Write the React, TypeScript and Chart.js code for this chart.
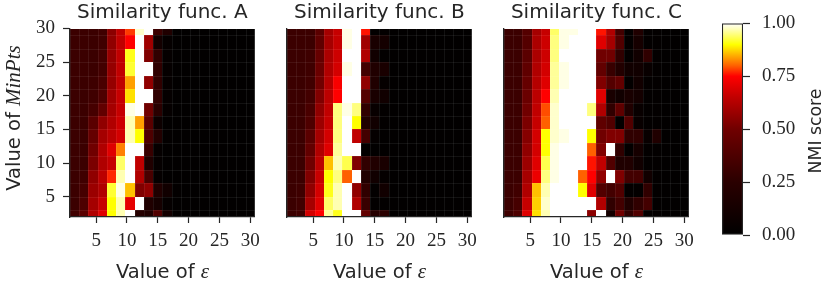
import React, { useEffect, useRef } from "react";
import { Chart, registerables } from "chart.js";

Chart.register(...registerables);

// ---------- data ----------
const EPSILON = [1.5, 3, 4.5, 6, 7.5, 9, 10.5, 12, 13.5, 15, 16.5, 18, 19.5, 21, 22.5, 24, 25.5, 27, 28.5, 30];
const MIN_PTS = [30, 28, 26, 24, 22, 20, 18, 16, 14, 12, 10, 8, 6, 4, 2];
const X_TICKS = [5, 10, 15, 20, 25, 30];
const Y_TICKS = [5, 10, 15, 20, 25, 30];
const NMI_TICKS = [0, 0.25, 0.5, 0.75, 1];
const X_RANGE = [0.75, 30.75];
const Y_RANGE = [2, 30];
const NMI_RANGE = [0, 1];
const TITLES = ["Similarity func. A", "Similarity func. B", "Similarity func. C"];

// rows follow MIN_PTS (30 at top ... 2 at bottom), columns follow EPSILON
const NMI_A = [
  [0.31,0.31,0.31,0.33,0.55,0.65,0.78,0.98,1.00,0.31,0.19,0.01,0.01,0.01,0.01,0.01,0.01,0.01,0.01,0.01],
  [0.31,0.31,0.31,0.33,0.56,0.65,0.75,1.00,0.59,0.12,0.03,0.01,0.01,0.01,0.01,0.01,0.01,0.01,0.01,0.01],
  [0.31,0.31,0.31,0.34,0.57,0.65,0.91,1.00,0.53,0.27,0.03,0.01,0.01,0.01,0.01,0.01,0.01,0.01,0.01,0.01],
  [0.31,0.31,0.31,0.34,0.57,0.65,0.92,1.00,1.00,0.27,0.03,0.01,0.01,0.01,0.01,0.01,0.01,0.01,0.01,0.01],
  [0.31,0.31,0.32,0.36,0.57,0.65,0.84,1.00,0.56,0.27,0.03,0.01,0.01,0.01,0.01,0.01,0.01,0.01,0.01,0.01],
  [0.31,0.31,0.33,0.38,0.59,0.66,0.88,1.00,1.00,0.27,0.03,0.01,0.01,0.01,0.01,0.01,0.01,0.01,0.01,0.01],
  [0.31,0.31,0.35,0.45,0.60,0.66,0.99,1.00,0.50,0.25,0.03,0.01,0.01,0.01,0.01,0.01,0.01,0.01,0.01,0.01],
  [0.31,0.31,0.42,0.56,0.62,0.67,0.97,0.84,0.42,0.08,0.01,0.01,0.01,0.01,0.01,0.01,0.01,0.01,0.01,0.01],
  [0.31,0.31,0.46,0.60,0.64,0.68,0.97,0.90,0.38,0.20,0.02,0.01,0.01,0.01,0.01,0.01,0.01,0.01,0.01,0.01],
  [0.31,0.31,0.50,0.62,0.70,0.82,1.00,1.00,0.30,0.03,0.01,0.01,0.01,0.01,0.01,0.01,0.01,0.01,0.01,0.01],
  [0.31,0.31,0.52,0.62,0.66,0.94,1.00,0.65,0.19,0.03,0.01,0.01,0.01,0.01,0.01,0.01,0.01,0.01,0.01,0.01],
  [0.31,0.33,0.56,0.64,0.77,0.97,1.00,0.62,0.36,0.03,0.01,0.01,0.01,0.01,0.01,0.01,0.01,0.01,0.01,0.01],
  [0.31,0.35,0.58,0.62,0.92,0.99,0.86,0.53,0.56,0.19,0.10,0.02,0.01,0.01,0.01,0.01,0.01,0.01,0.01,0.01],
  [0.31,0.38,0.60,0.66,0.90,0.97,0.71,1.00,0.19,0.13,0.03,0.01,0.01,0.01,0.01,0.01,0.01,0.01,0.01,0.01],
  [0.33,0.42,0.62,0.70,0.90,0.97,1.00,0.22,0.19,0.39,0.12,0.02,0.01,0.01,0.01,0.01,0.01,0.01,0.01,0.01],
];

const NMI_B = [
  [0.31,0.31,0.31,0.42,0.60,0.66,0.99,1.00,0.76,0.02,0.02,0.01,0.01,0.01,0.01,0.01,0.01,0.01,0.01,0.01],
  [0.31,0.31,0.31,0.44,0.60,0.66,0.99,1.00,0.59,0.15,0.12,0.01,0.01,0.01,0.01,0.01,0.01,0.01,0.01,0.01],
  [0.31,0.31,0.32,0.46,0.61,0.67,1.00,1.00,0.62,0.10,0.02,0.01,0.01,0.01,0.01,0.01,0.01,0.01,0.01,0.01],
  [0.31,0.31,0.32,0.48,0.62,0.68,0.99,1.00,0.34,0.19,0.15,0.01,0.01,0.01,0.01,0.01,0.01,0.01,0.01,0.01],
  [0.31,0.31,0.33,0.50,0.63,0.74,1.00,1.00,0.56,0.19,0.03,0.01,0.01,0.01,0.01,0.01,0.01,0.01,0.01,0.01],
  [0.31,0.31,0.34,0.53,0.64,0.75,1.00,1.00,0.40,0.15,0.10,0.01,0.01,0.01,0.01,0.01,0.01,0.01,0.01,0.01],
  [0.31,0.31,0.36,0.56,0.65,0.95,0.99,0.95,0.27,0.05,0.02,0.01,0.01,0.01,0.01,0.01,0.01,0.01,0.01,0.01],
  [0.31,0.31,0.38,0.58,0.66,0.95,1.00,0.90,0.19,0.10,0.02,0.01,0.01,0.01,0.01,0.01,0.01,0.01,0.01,0.01],
  [0.31,0.31,0.42,0.60,0.68,0.95,1.00,0.65,0.34,0.03,0.01,0.01,0.01,0.01,0.01,0.01,0.01,0.01,0.01,0.01],
  [0.31,0.31,0.45,0.62,0.70,0.96,1.00,1.00,0.02,0.01,0.01,0.01,0.01,0.01,0.01,0.01,0.01,0.01,0.01,0.01],
  [0.31,0.31,0.50,0.64,0.86,0.97,0.93,0.53,0.27,0.19,0.15,0.01,0.01,0.01,0.01,0.01,0.01,0.01,0.01,0.01],
  [0.31,0.31,0.53,0.66,0.90,0.95,0.80,1.00,0.19,0.10,0.03,0.01,0.01,0.01,0.01,0.01,0.01,0.01,0.01,0.01],
  [0.31,0.32,0.56,0.68,0.91,0.97,1.00,0.56,0.27,0.02,0.10,0.01,0.01,0.01,0.01,0.01,0.01,0.01,0.01,0.01],
  [0.31,0.33,0.60,0.70,0.94,0.97,1.00,0.62,0.30,0.02,0.02,0.01,0.01,0.01,0.01,0.01,0.01,0.01,0.01,0.01],
  [0.31,0.33,0.68,0.75,0.96,0.91,1.00,1.00,0.45,0.22,0.25,0.01,0.01,0.01,0.01,0.01,0.01,0.01,0.01,0.01],
];

const NMI_C = [
  [0.31,0.31,0.40,0.60,0.66,0.94,0.99,0.99,1.00,1.00,0.76,0.62,0.34,0.02,0.19,0.02,0.02,0.01,0.01,0.01],
  [0.31,0.31,0.40,0.61,0.67,0.95,0.99,1.00,1.00,1.00,0.70,0.60,0.39,0.02,0.13,0.02,0.02,0.01,0.01,0.01],
  [0.31,0.31,0.42,0.61,0.67,0.95,1.00,1.00,1.00,1.00,0.50,0.50,0.27,0.02,0.10,0.27,0.02,0.01,0.01,0.01],
  [0.31,0.31,0.44,0.62,0.68,0.96,0.99,1.00,1.00,1.00,0.45,0.30,0.20,0.10,0.10,0.05,0.02,0.01,0.01,0.01],
  [0.31,0.31,0.46,0.63,0.70,0.96,0.99,1.00,1.00,1.00,0.53,0.40,0.45,0.02,0.10,0.02,0.02,0.01,0.01,0.01],
  [0.31,0.31,0.48,0.64,0.75,0.97,1.00,1.00,1.00,1.00,0.70,0.15,0.10,0.15,0.12,0.02,0.02,0.01,0.01,0.01],
  [0.31,0.31,0.50,0.65,0.79,0.98,1.00,1.00,1.00,0.95,0.62,0.27,0.44,0.19,0.05,0.02,0.02,0.01,0.01,0.01],
  [0.31,0.31,0.52,0.66,0.80,0.98,1.00,1.00,1.00,1.00,0.44,0.39,0.02,0.39,0.05,0.02,0.02,0.01,0.01,0.01],
  [0.31,0.31,0.54,0.68,0.90,0.98,0.99,1.00,1.00,0.90,0.50,0.53,0.53,0.27,0.27,0.05,0.19,0.01,0.01,0.01],
  [0.31,0.31,0.56,0.68,0.90,0.99,1.00,1.00,1.00,0.80,0.53,1.00,0.27,0.02,0.13,0.02,0.02,0.01,0.01,0.01],
  [0.31,0.31,0.58,0.70,0.93,0.99,1.00,1.00,1.00,0.76,0.65,0.39,0.19,0.19,0.10,0.02,0.02,0.01,0.01,0.01],
  [0.31,0.31,0.60,0.72,0.95,0.99,1.00,1.00,0.80,0.75,0.56,1.00,0.53,0.34,0.34,0.10,0.02,0.01,0.01,0.01],
  [0.31,0.33,0.62,0.86,0.97,1.00,1.00,1.00,0.90,0.70,0.39,0.34,0.39,0.02,0.02,0.27,0.02,0.01,0.01,0.01],
  [0.31,0.35,0.66,0.87,0.98,1.00,1.00,1.00,1.00,1.00,0.62,0.27,0.34,0.19,0.27,0.34,0.02,0.01,0.01,0.01],
  [0.32,0.38,0.70,0.88,0.97,1.00,1.00,1.00,1.00,0.55,1.00,0.12,0.50,0.27,0.39,0.02,0.02,0.01,0.01,0.01],
];

const PANELS = [NMI_A, NMI_B, NMI_C];

// ---------- styling ----------
const INK = "#262626";
const SANS = "'DejaVu Sans', sans-serif";
const SERIF = "'Liberation Serif', serif";
const SEAM = "rgba(255,255,255,0.07)";
const CMAP_STOPS = [
  [0, 0, 0, 0],
  [0.25, 42, 0, 0],
  [0.5, 112, 0, 0],
  [0.65, 192, 0, 0],
  [0.75, 255, 0, 0],
  [0.8, 255, 96, 0],
  [0.87, 255, 208, 0],
  [0.9, 255, 255, 0],
  [1, 255, 255, 255],
];

function cmap(v: number) {
  const t = Math.max(0, Math.min(1, v));
  for (let i = 1; i < CMAP_STOPS.length; i++) {
    const a = CMAP_STOPS[i - 1];
    const b = CMAP_STOPS[i];
    if (t <= b[0]) {
      const f = (t - a[0]) / (b[0] - a[0]);
      const r = Math.round(a[1] + (b[1] - a[1]) * f);
      const g = Math.round(a[2] + (b[2] - a[2]) * f);
      const bl = Math.round(a[3] + (b[3] - a[3]) * f);
      return `rgb(${r},${g},${bl})`;
    }
  }
  return "rgb(255,255,255)";
}

function cellEdges(values: number[], range: number[]) {
  const clamp = (x: number) => Math.max(range[0], Math.min(range[1], x));
  return values.map((v, i) => {
    const prev = values[i - 1];
    const next = values[i + 1];
    const a = prev === undefined ? v - (next - v) / 2 : (v + prev) / 2;
    const b = next === undefined ? v + (v - prev) / 2 : (v + next) / 2;
    return [clamp(Math.min(a, b)), clamp(Math.max(a, b))];
  });
}

function buildCells(values: number[][]) {
  const xe = cellEdges(EPSILON, X_RANGE);
  const ye = cellEdges(MIN_PTS, Y_RANGE);
  const cells: any[] = [];
  MIN_PTS.forEach((m, r) =>
    EPSILON.forEach((e, c) =>
      cells.push({ x: e, y: m, v: values[r][c], x0: xe[c][0], x1: xe[c][1], y0: ye[r][0], y1: ye[r][1] })
    )
  );
  return cells;
}

const heatmapPlugin = {
  id: "heatmapCells",
  beforeDraw(chart: any) {
    const { ctx, chartArea, scales } = chart;
    if (!chartArea) return;
    const xs = scales.x;
    const ys = scales.y;
    ctx.save();
    ctx.beginPath();
    ctx.rect(chartArea.left, chartArea.top, chartArea.right - chartArea.left, chartArea.bottom - chartArea.top);
    ctx.clip();
    const data = chart.data.datasets[0].data;
    for (const p of data) {
      const px0 = Math.round(xs.getPixelForValue(p.x0));
      const px1 = Math.round(xs.getPixelForValue(p.x1));
      const py0 = Math.round(ys.getPixelForValue(p.y0));
      const py1 = Math.round(ys.getPixelForValue(p.y1));
      ctx.fillStyle = cmap(p.v);
      ctx.fillRect(Math.min(px0, px1), Math.min(py0, py1), Math.abs(px1 - px0), Math.abs(py1 - py0));
    }
    // faint seams between cells, as left by the rasterised mesh
    ctx.strokeStyle = SEAM;
    ctx.lineWidth = 1;
    const xsSeen = new Set<number>();
    const ysSeen = new Set<number>();
    for (const p of data) {
      xsSeen.add(Math.round(xs.getPixelForValue(p.x0)));
      ysSeen.add(Math.round(ys.getPixelForValue(p.y0)));
    }
    ctx.beginPath();
    xsSeen.forEach((px) => {
      ctx.moveTo(px + 0.5, chartArea.top);
      ctx.lineTo(px + 0.5, chartArea.bottom);
    });
    ysSeen.forEach((py) => {
      ctx.moveTo(chartArea.left, py + 0.5);
      ctx.lineTo(chartArea.right, py + 0.5);
    });
    ctx.stroke();
    ctx.restore();
  },
};

const AXIS_W = 70;
const AXIS_H = 70;
const PLOT_W = 185;
const PAD_R = 12;
const CANVAS_LEFTS = [0, 217, 434];

function panelConfig(title: string, values: number[][], showY: boolean): any {
  return {
    type: "scatter",
    data: { datasets: [{ data: buildCells(values), pointRadius: 0, pointHoverRadius: 0 }] },
    plugins: [heatmapPlugin],
    options: {
      animation: false,
      responsive: false,
      events: [],
      layout: { padding: { left: 0, right: PAD_R, top: 0, bottom: 0 } },
      plugins: {
        legend: { display: false },
        tooltip: { enabled: false },
        title: {
          display: true,
          text: title,
          fullSize: false,
          color: INK,
          font: { family: SANS, size: 20, weight: "normal", lineHeight: 1.2 },
          padding: { top: 0.5, bottom: 4 },
        },
      },
      scales: {
        x: {
          type: "linear",
          min: X_RANGE[0],
          max: X_RANGE[1],
          afterBuildTicks: (s: any) => {
            s.ticks = X_TICKS.map((v) => ({ value: v }));
          },
          afterFit: (s: any) => {
            s.height = AXIS_H;
          },
          grid: { display: true, drawOnChartArea: false, drawTicks: true, tickLength: 6, tickWidth: 1.2, tickColor: INK },
          border: { display: true, color: INK, width: 1.3 },
          ticks: { color: INK, font: { family: SERIF, size: 19 }, padding: 7, maxRotation: 0, autoSkip: false },
        },
        y: {
          type: "linear",
          min: Y_RANGE[0],
          max: Y_RANGE[1],
          afterBuildTicks: (s: any) => {
            s.ticks = Y_TICKS.map((v) => ({ value: v }));
          },
          afterFit: (s: any) => {
            s.width = AXIS_W;
          },
          grid: { display: showY, drawOnChartArea: false, drawTicks: true, tickLength: 7, tickWidth: 1.2, tickColor: INK },
          border: { display: true, color: INK, width: 1.3 },
          ticks: { display: showY, color: INK, font: { family: SERIF, size: 19 }, padding: 8, autoSkip: false },
        },
      },
    },
  };
}

function colorbarConfig(): any {
  return {
    type: "bar",
    data: {
      labels: ["NMI score"],
      datasets: [
        {
          data: [NMI_RANGE],
          backgroundColor: (c: any) => {
            const chart = c.chart;
            const ys = chart.scales && chart.scales.y;
            if (!chart.chartArea || !ys) return INK;
            const g = chart.ctx.createLinearGradient(0, ys.getPixelForValue(NMI_RANGE[0]), 0, ys.getPixelForValue(NMI_RANGE[1]));
            CMAP_STOPS.forEach((s) => g.addColorStop(s[0], `rgb(${s[1]},${s[2]},${s[3]})`));
            return g;
          },
          borderColor: INK,
          borderWidth: 1.4,
          borderSkipped: false,
          barPercentage: 1,
          categoryPercentage: 1,
        },
      ],
    },
    options: {
      animation: false,
      responsive: false,
      events: [],
      layout: { padding: { left: 22, right: 0, top: 17, bottom: 52 } },
      plugins: { legend: { display: false }, tooltip: { enabled: false }, title: { display: false } },
      scales: {
        x: { display: false },
        y: {
          position: "right",
          min: NMI_RANGE[0],
          max: NMI_RANGE[1],
          afterBuildTicks: (s: any) => {
            s.ticks = NMI_TICKS.map((v) => ({ value: v }));
          },
          afterFit: (s: any) => {
            s.width = 87;
          },
          grid: { display: true, drawOnChartArea: false, drawTicks: true, tickLength: 7, tickWidth: 1.2, tickColor: INK },
          border: { display: false },
          ticks: {
            color: INK,
            font: { family: SERIF, size: 19 },
            padding: 12,
            autoSkip: false,
            callback: (v: any) => Number(v).toFixed(2),
          },
        },
      },
    },
  };
}

export default function App() {
  const refs = [useRef<HTMLCanvasElement>(null), useRef<HTMLCanvasElement>(null), useRef<HTMLCanvasElement>(null)];
  const cbRef = useRef<HTMLCanvasElement>(null);

  useEffect(() => {
    const charts: any[] = [];
    refs.forEach((r, i) => {
      if (r.current) charts.push(new Chart(r.current, panelConfig(TITLES[i], PANELS[i], i === 0)));
    });
    if (cbRef.current) charts.push(new Chart(cbRef.current, colorbarConfig()));
    return () => charts.forEach((c) => c.destroy());
  }, []);

  const textStyle: any = { position: "absolute", color: INK, fontFamily: SANS, whiteSpace: "nowrap", textAlign: "center" };

  return (
    <div style={{ position: "fixed", left: 0, top: 0, width: 830, height: 287, background: "#fff", overflow: "hidden" }}>
      {CANVAS_LEFTS.map((left, i) => (
        <canvas
          key={i}
          ref={refs[i]}
          width={AXIS_W + PLOT_W + PAD_R}
          height={287}
          style={{ position: "absolute", left, top: 0, width: AXIS_W + PLOT_W + PAD_R, height: 287 }}
        />
      ))}
      <canvas ref={cbRef} width={130} height={287} style={{ position: "absolute", left: 700, top: 0, width: 130, height: 287 }} />
      {CANVAS_LEFTS.map((left, i) => (
        <div
          key={"xl" + i}
          style={{ ...textStyle, left: left + AXIS_W, width: PLOT_W, top: 258.7, height: 24, lineHeight: "24px", fontSize: 19.5 }}
        >
          Value of <span style={{ fontFamily: SERIF, fontStyle: "italic", fontSize: 21 }}>ε</span>
        </div>
      ))}
      <div
        style={{
          ...textStyle,
          left: 12.6 - 100,
          top: 118 - 12,
          width: 200,
          height: 24,
          lineHeight: "24px",
          fontSize: 19.5,
          transform: "rotate(-90deg)",
          transformOrigin: "50% 50%",
        }}
      >
        Value of <span style={{ fontFamily: SERIF, fontStyle: "italic", fontSize: 21 }}>MinPts</span>
      </div>
      <div
        style={{
          ...textStyle,
          left: 815.4 - 60,
          top: 130.8 - 11,
          width: 120,
          height: 22,
          lineHeight: "22px",
          fontSize: 17.3,
          transform: "rotate(-90deg)",
          transformOrigin: "50% 50%",
        }}
      >
        NMI score
      </div>
    </div>
  );
}
